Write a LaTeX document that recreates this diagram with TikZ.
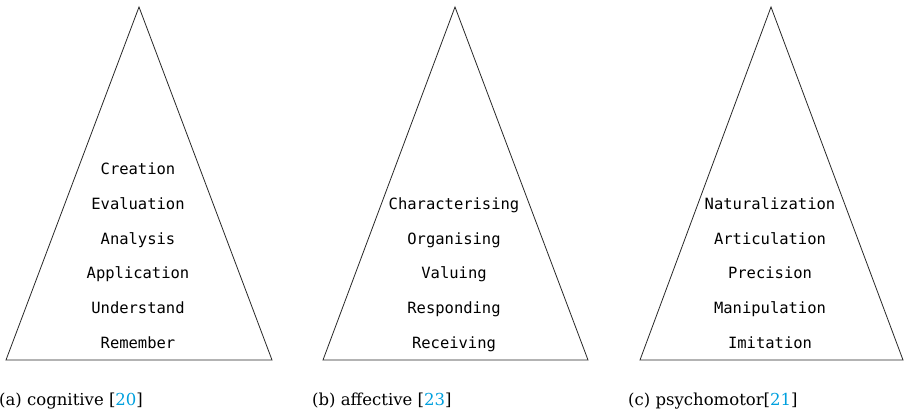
\documentclass[tikz,border=0pt]{standalone}
\usepackage{fontspec}
\setmainfont{DejaVu Serif}
\setmonofont{DejaVu Sans Mono}
\definecolor{citeblue}{RGB}{0,160,222}
\definecolor{edge}{RGB}{40,40,40}
\begin{document}
\begin{tikzpicture}[x=1pt,y=1pt,
  pyramid/.style={draw=edge, line width=0.8pt, line join=miter},
  level/.style={font=\ttfamily\fontsize{15.5}{17}\selectfont, inner sep=0pt, anchor=base},
  caption/.style={font=\fontsize{16.5}{19}\selectfont, inner sep=0pt, anchor=base west}]
\useasboundingbox (0,0) rectangle (904,414);

% three pyramids: apex and base corners
\foreach \n/\l/\t/\r in {A/6/139/272, B/323/455/588, C/640/771/903}{
  \coordinate (\n-apex) at (\t,407);
  \coordinate (\n-left) at (\l,54);
  \coordinate (\n-right) at (\r,54);
  \draw[pyramid] (\n-left) -- (\n-apex) -- (\n-right) -- cycle;
}

% cognitive levels
\node[level] (cog6) at (138,239.5) {Creation};
\node[level] (cog5) at (138,204.5) {Evaluation};
\node[level] (cog4) at (138,169.5) {Analysis};
\node[level] (cog3) at (138,135.5) {Application};
\node[level] (cog2) at (138,100.5) {Understand};
\node[level] (cog1) at (138,65.5) {Remember};

% affective levels
\node[level] (aff5) at (454,204.5) {Characterising};
\node[level] (aff4) at (454,169.5) {Organising};
\node[level] (aff3) at (454,135.5) {Valuing};
\node[level] (aff2) at (454,100.5) {Responding};
\node[level] (aff1) at (454,65.5) {Receiving};

% psychomotor levels
\node[level] (psy5) at (770,204.5) {Naturalization};
\node[level] (psy4) at (770,169.5) {Articulation};
\node[level] (psy3) at (770,135.5) {Precision};
\node[level] (psy2) at (770,100.5) {Manipulation};
\node[level] (psy1) at (770,65.5) {Imitation};

% sub-captions
\node[caption] (capA) at (-1,8) {(a) cognitive [\textcolor{citeblue}{20}]};
\node[caption] (capB) at (312,8) {(b) affective [\textcolor{citeblue}{23}]};
\node[caption] (capC) at (628,8) {(c) psychomotor[\textcolor{citeblue}{21}]};
\end{tikzpicture}
\end{document}
